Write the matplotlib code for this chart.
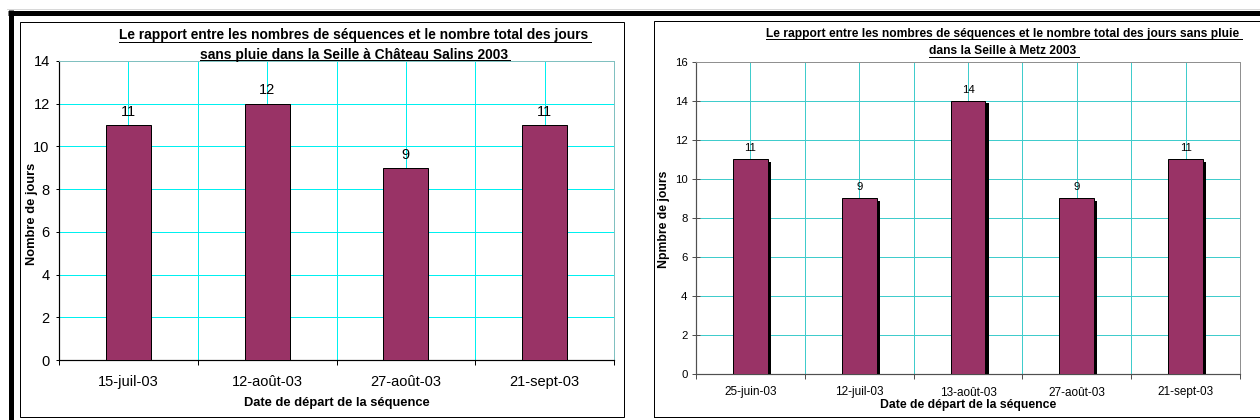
import numpy as np
import matplotlib
matplotlib.use('Agg')
import matplotlib.pyplot as plt
from matplotlib import patheffects as pe
from matplotlib.patches import Rectangle
from matplotlib.lines import Line2D

# ---------------- data ----------------
left_title = ["Le rapport entre les nombres de séquences et le nombre total des jours",
              "sans pluie dans la Seille à Château Salins 2003"]
left_dates = ["15-juil-03", "12-août-03", "27-août-03", "21-sept-03"]
left_days = [11, 12, 9, 11]
left_ylabel = "Nombre de jours"

right_title = ["Le rapport entre les nombres de séquences et le nombre total des jours sans pluie",
               "dans la Seille à Metz 2003"]
right_dates = ["25-juin-03", "12-juil-03", "13-août-03", "27-août-03", "21-sept-03"]
right_days = [11, 9, 14, 9, 11]
right_ylabel = "Npmbre de jours"

xlabel = "Date de départ de la séquence"

# ---------------- figure ----------------
W, H, DPI = 1260, 420, 100
plt.rcParams['font.family'] = ['Liberation Sans', 'DejaVu Sans']
fig = plt.figure(figsize=(W / DPI, H / DPI), dpi=DPI)
fig.patch.set_facecolor('white')
renderer = fig.canvas.get_renderer()

PX = 72.0 / DPI  # points per pixel


def fx(x):
    return x / W


def fy(y):
    return 1 - y / H


def axes_px(x0, y0, x1, y1):
    return fig.add_axes([fx(x0), fy(y1), (x1 - x0) / W, (y1 - y0) / H])


# outer decorations
fig.add_artist(Line2D([fx(8), 1.0], [fy(12.5), fy(12.5)], color='black', lw=5 * PX,
                      transform=fig.transFigure, solid_capstyle='butt'))
fig.add_artist(Line2D([fx(10.5), fx(10.5)], [fy(10), 0.0], color='black', lw=5 * PX,
                      transform=fig.transFigure, solid_capstyle='butt'))
fig.add_artist(Line2D([fx(7), 1.0], [fy(8.5), fy(8.5)], color='#d8d8d8', lw=1 * PX,
                      transform=fig.transFigure))
fig.add_artist(Rectangle((fx(19.5), fy(416.5)), (624 - 19.5) / W, (416.5 - 21.5) / H,
                         fill=False, edgecolor='black', lw=1 * PX, transform=fig.transFigure))
fig.add_artist(Rectangle((fx(653.5), fy(417)), (1275 - 653.5) / W, (417 - 20.5) / H,
                         fill=False, edgecolor='black', lw=1 * PX, transform=fig.transFigure))


def title_lines(lines, cx, baselines, target_w, underlines, fs0=9):
    t1 = fig.text(fx(cx), fy(baselines[0]), lines[0], fontsize=fs0, fontweight='bold',
                  ha='center', va='baseline', color='black')
    w = t1.get_window_extent(renderer).width
    fs = fs0 * target_w / w
    t1.set_fontsize(fs)
    t2 = fig.text(fx(cx), fy(baselines[1]), lines[1], fontsize=fs, fontweight='bold',
                  ha='center', va='baseline', color='black')
    for t, uy in zip((t1, t2), underlines):
        bb = t.get_window_extent(renderer)
        fig.add_artist(Line2D([bb.x0 / W, (bb.x1 + 2) / W], [fy(uy), fy(uy)],
                              color='black', lw=1 * PX, transform=fig.transFigure))


title_lines(left_title, 354, (39.5, 58.5), 466, (41.8, 60.3))
title_lines(right_title, 1003, (37.3, 54.2), 473, (39.0, 56.7))


def make_chart(ax, dates, days, ymax, bar_w, grid_c, dark, light, tick_fs, ytick_fs,
               val_fs, lab_fs, shadow, xpad, ypad, ytick_dir, ytick_len, xlab_pos):
    n = len(dates)
    x = np.arange(n)
    kw = dict(color='#993366', edgecolor='black', linewidth=1 * PX, zorder=3)
    if shadow:
        kw['path_effects'] = [pe.SimplePatchShadow(offset=(2.3, -1.5), shadow_rgbFace='black',
                                                   alpha=1.0), pe.Normal()]
    bars = ax.bar(x, days, width=bar_w, **kw)
    ax.bar_label(bars, labels=[str(v) for v in days], padding=4.5, fontsize=val_fs,
                 color='black', zorder=4)
    ax.set_xlim(-0.5, n - 0.5)
    ax.set_ylim(0, ymax)
    ax.set_yticks(np.arange(0, ymax + 1, 2))
    ax.set_xticks(np.arange(n + 1) - 0.5)
    ax.set_xticklabels([''] * (n + 1))
    ax.set_xticks(x, minor=True)
    ax.set_xticklabels(dates, minor=True)
    ax.tick_params(axis='x', which='minor', length=0, pad=xpad, labelsize=tick_fs)
    ax.tick_params(axis='x', which='major', length=5 * PX, direction='out',
                   width=1 * PX, color=dark)
    ax.tick_params(axis='y', length=ytick_len, direction=ytick_dir, width=1 * PX,
                   color=dark, pad=ypad, labelsize=ytick_fs)
    ax.set_axisbelow(True)
    ax.grid(axis='x', which='both', color=grid_c, lw=1 * PX, snap=True)
    ax.grid(axis='y', which='major', color=grid_c, lw=1 * PX, snap=True)
    for s in ('left', 'bottom'):
        ax.spines[s].set_color(dark)
        ax.spines[s].set_linewidth(1.2 * PX)
    for s in ('top', 'right'):
        ax.spines[s].set_color(light)
        ax.spines[s].set_linewidth(1 * PX)
    ax.set_xlabel(xlabel, fontsize=lab_fs, fontweight='bold')
    ax.xaxis.set_label_coords(*xlab_pos)
    ax.xaxis.label.set_va('center')
    return bars


# left chart: plot area x 59-614, y 61-360
axL = axes_px(59, 61, 614, 360)
make_chart(axL, left_dates, left_days, 14, 0.325, '#00f0f0', 'black', '#80c0c0',
           10.5, 10.5, 10.5, 9.3, False, 11, 4.5, 'out', 3 * PX,
           (0.5, (360 - 403) / 299.0))
axL.set_ylabel(left_ylabel, fontsize=9.3, fontweight='bold')
axL.yaxis.set_label_coords((31.5 - 59) / 555.0, (360 - 213.5) / 299.0)
axL.yaxis.label.set_va('center')

# right chart: plot area x 696-1240, y 62-374
axR = axes_px(696, 62, 1240, 374)
make_chart(axR, right_dates, right_days, 16, 0.32, '#40cccc', '#505050', '#909090',
           8.5, 8.2, 8.2, 8.8, True, 9, 3.2, 'inout', 8 * PX,
           (0.5, (374 - 405) / 312.0))
axR.set_ylabel(right_ylabel, fontsize=8.8, fontweight='bold')
axR.yaxis.set_label_coords((663.5 - 696) / 544.0, (374 - 219) / 312.0)
axR.yaxis.label.set_va('center')

fig.savefig('out.png', dpi=DPI, facecolor='white')
